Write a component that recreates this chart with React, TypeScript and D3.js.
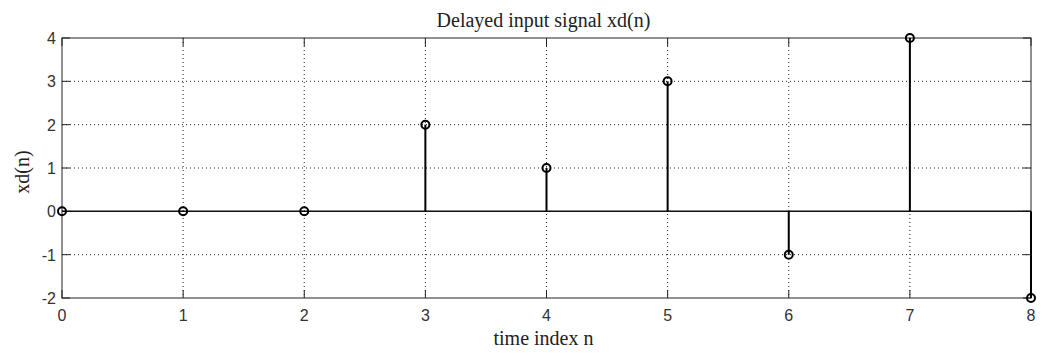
import React from "react";
import * as d3 from "d3";

// Sample indices and delayed signal values xd(n)
const indices: number[] = [0, 1, 2, 3, 4, 5, 6, 7, 8];
const values: number[] = [0, 0, 0, 2, 1, 3, -1, 4, -2];
const xTicks: number[] = [0, 1, 2, 3, 4, 5, 6, 7, 8];
const yTicks: number[] = [-2, -1, 0, 1, 2, 3, 4];

const titleText = "Delayed input signal xd(n)";
const xLabel = "time index n";
const yLabel = "xd(n)";

const W = 1049;
const H = 356;
const left = 62;
const right = 1031;
const top = 38;
const bottom = 298;

export default function App() {
  const x = d3.scaleLinear().domain([0, 8]).range([left, right]);
  const y = d3.scaleLinear().domain([-2, 4]).range([bottom, top]);
  const tickLen = 8;
  const sans = "'Liberation Sans', 'DejaVu Sans', sans-serif";
  const serif = "'Liberation Serif', 'DejaVu Serif', serif";

  return (
    <svg
      width={W}
      height={H}
      style={{ position: "absolute", left: 0, top: 0, background: "#fff" }}
    >
      <rect x={0} y={0} width={W} height={H} fill="#fff" />
      {/* dotted grid */}
      {xTicks.slice(1, -1).map((t) => (
        <line
          key={"gx" + t}
          x1={x(t)}
          x2={x(t)}
          y1={top}
          y2={bottom}
          stroke="#222"
          strokeWidth={1}
          strokeDasharray="1 3"
        />
      ))}
      {yTicks.slice(1, -1).map((t) => (
        <line
          key={"gy" + t}
          x1={left}
          x2={right}
          y1={y(t)}
          y2={y(t)}
          stroke="#222"
          strokeWidth={1}
          strokeDasharray="1 3"
        />
      ))}
      {/* axes box */}
      <rect
        x={left}
        y={top}
        width={right - left}
        height={bottom - top}
        fill="none"
        stroke="#222"
        strokeWidth={1}
      />
      {/* tick marks */}
      {xTicks.map((t) => (
        <g key={"tx" + t}>
          <line x1={x(t)} x2={x(t)} y1={bottom} y2={bottom - tickLen} stroke="#222" />
          <line x1={x(t)} x2={x(t)} y1={top} y2={top + tickLen} stroke="#222" />
          <text
            x={x(t)}
            y={bottom + 23}
            textAnchor="middle"
            fontFamily={sans}
            fontSize={16}
            fill="#333"
          >
            {t}
          </text>
        </g>
      ))}
      {yTicks.map((t) => (
        <g key={"ty" + t}>
          <line x1={left} x2={left + tickLen} y1={y(t)} y2={y(t)} stroke="#222" />
          <line x1={right} x2={right - tickLen} y1={y(t)} y2={y(t)} stroke="#222" />
          <text
            x={left - 6}
            y={y(t) + 6}
            textAnchor="end"
            fontFamily={sans}
            fontSize={16}
            fill="#333"
          >
            {t}
          </text>
        </g>
      ))}
      {/* baseline */}
      <line x1={left} x2={right} y1={y(0)} y2={y(0)} stroke="#111" strokeWidth={1.5} />
      {/* stems */}
      {indices.map((n, i) => (
        <line
          key={"s" + n}
          x1={x(n)}
          x2={x(n)}
          y1={y(0)}
          y2={y(values[i])}
          stroke="#000"
          strokeWidth={2}
        />
      ))}
      {indices.map((n, i) => (
        <circle
          key={"m" + n}
          cx={x(n)}
          cy={y(values[i])}
          r={4}
          fill="none"
          stroke="#000"
          strokeWidth={2}
        />
      ))}
      {/* labels */}
      <text
        x={(left + right) / 2 - 3}
        y={27}
        textAnchor="middle"
        fontFamily={serif}
        fontSize={20}
        fill="#222"
      >
        {titleText}
      </text>
      <text
        x={(left + right) / 2 - 3}
        y={345}
        textAnchor="middle"
        fontFamily={serif}
        fontSize={20}
        fill="#222"
      >
        {xLabel}
      </text>
      <text
        transform={`translate(29, 172) rotate(-90)`}
        textAnchor="middle"
        fontFamily={serif}
        fontSize={20}
        fill="#222"
      >
        {yLabel}
      </text>
    </svg>
  );
}
